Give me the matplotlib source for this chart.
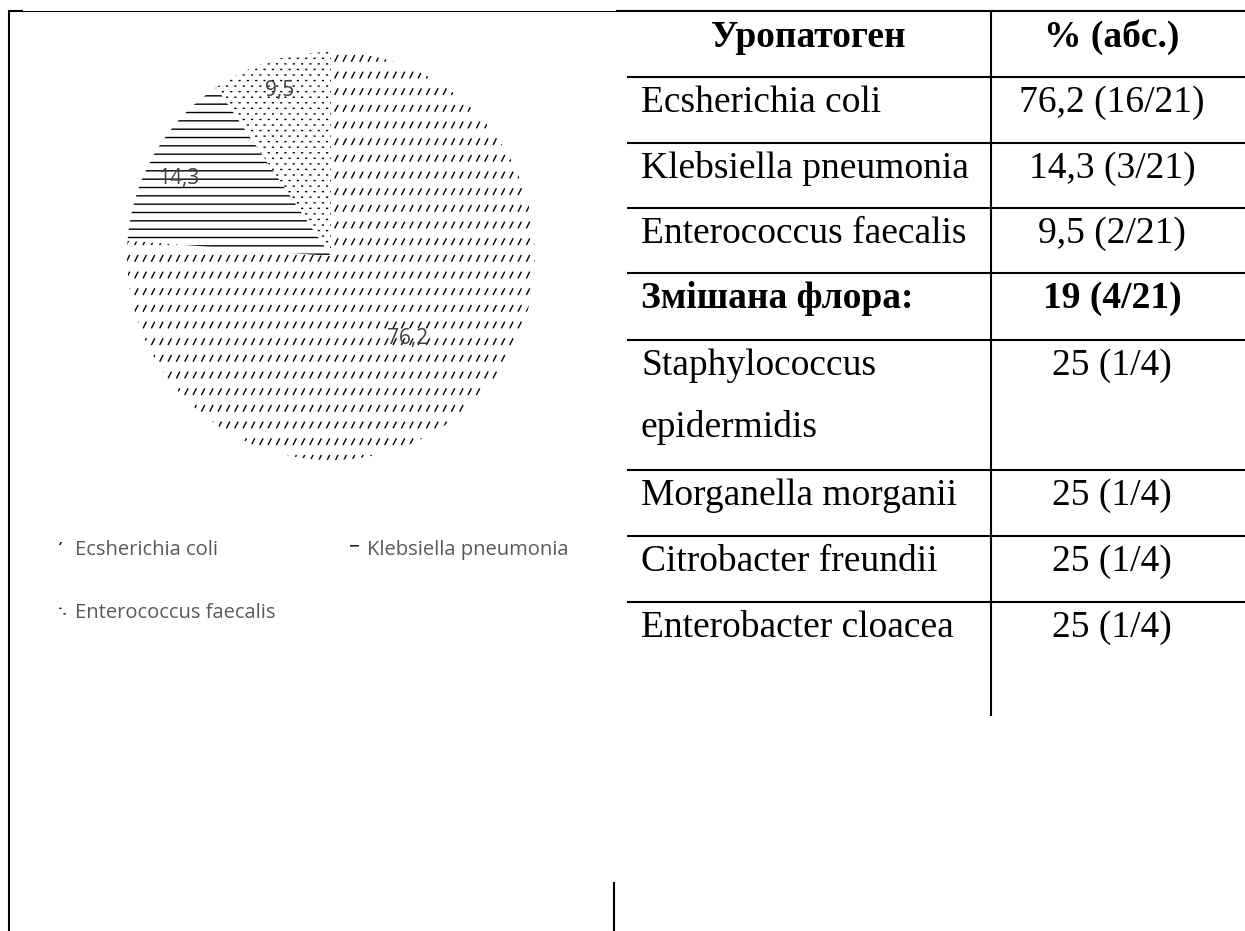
import warnings
import numpy as np
import matplotlib
matplotlib.use('Agg')
import matplotlib.pyplot as plt
from matplotlib import hatch as mhatch
from matplotlib.path import Path
from matplotlib.patches import Patch

warnings.filterwarnings('ignore')

# дані діаграми
uropathogens = ['Ecsherichia coli', 'Klebsiella pneumonia', 'Enterococcus faecalis']
shares = [76.2, 14.3, 9.5]
share_labels = ['76,2', '14,3', '9,5']
hatches = ['z', '--', 'y']

# дані таблиці
header = ['Уропатоген', '% (абс.)']
table_names = ['Ecsherichia coli', 'Klebsiella pneumonia', 'Enterococcus faecalis',
               'Змішана флора:', 'Staphylococcus\nepidermidis', 'Morganella morganii',
               'Citrobacter freundii', 'Enterobacter cloacea']
table_values = ['76,2 (16/21)', '14,3 (3/21)', '9,5 (2/21)', '19 (4/21)',
                '25 (1/4)', '25 (1/4)', '25 (1/4)', '25 (1/4)']
bold_rows = [3]


# штрихування як в Excel: ряди коротких косих рисок ('z')
class RowSlashes(mhatch.HatchPatternBase):
    def __init__(self, hatch, density):
        self.rows = hatch.count('z') * density
        self.cols = 2 * self.rows
        self.num_vertices = self.rows * self.cols * 2

    def set_vertices_and_codes(self, vertices, codes):
        ys = (np.arange(self.rows) + 0.5) / self.rows
        xs = (np.arange(self.cols) + 0.2) / self.cols
        X, Y = np.meshgrid(xs, ys)
        dx, dy = 0.028, 0.055
        v = np.empty((X.size, 2, 2))
        v[:, 0, 0] = X.ravel()
        v[:, 0, 1] = Y.ravel() - dy / 2
        v[:, 1, 0] = X.ravel() + dx
        v[:, 1, 1] = Y.ravel() + dy / 2
        vertices[:] = v.reshape(-1, 2)
        codes[0::2] = Path.MOVETO
        codes[1::2] = Path.LINETO


# дрібні точки в шаховому порядку ('y')
class FineDots(mhatch.HatchPatternBase):
    def __init__(self, hatch, density):
        n = hatch.count('y')
        self.cols = 2 * density * n
        self.rows = 3 * density * n
        self.num_vertices = self.rows * self.cols * 2

    def set_vertices_and_codes(self, vertices, codes):
        ys = (np.arange(self.rows) + 0.5) / self.rows
        pts = []
        for k, y in enumerate(ys):
            shift = 0.25 if k % 2 == 0 else 0.75
            for c in range(self.cols):
                pts.append(((c + shift) / self.cols, y))
        pts = np.array(pts)
        d = 0.004
        v = np.empty((len(pts), 2, 2))
        v[:, 0, 0] = pts[:, 0] - d
        v[:, 1, 0] = pts[:, 0] + d
        v[:, 0, 1] = pts[:, 1]
        v[:, 1, 1] = pts[:, 1]
        vertices[:] = v.reshape(-1, 2)
        codes[0::2] = Path.MOVETO
        codes[1::2] = Path.LINETO


mhatch._hatch_types.append(RowSlashes)
mhatch._hatch_types.append(FineDots)

# розмітка сторінки (пікселі)
W, H = 1245, 931
row_lines = [77, 143, 208, 273, 340, 470, 536, 602]
col1_left, col1_mid, col2_mid = 641, 808, 1112
serif = 'Liberation Serif'
sans = 'Open Sans'

fig = plt.figure(figsize=(W / 100, H / 100), dpi=100)
page = fig.add_axes([0, 0, 1, 1])
page.set_xlim(0, W)
page.set_ylim(H, 0)
page.axis('off')

kw = dict(color='black', solid_capstyle='butt')
page.plot([8, 616], [10.5, 10.5], lw=0.75, **kw)
page.plot([616, W], [10.5, 10.5], lw=1.5, **kw)
page.plot([8, 23], [10.5, 10.5], lw=1.5, **kw)
page.plot([9, 9], [10, H], lw=1.5, **kw)
page.plot([613.5, 613.5], [882, H], lw=1.5, **kw)
page.plot([991, 991], [10, 716], lw=1.5, **kw)
for y in row_lines:
    page.plot([627, W], [y, y], lw=1.5, **kw)

# таблиця
page.text(col1_mid, 47, header[0], family=serif, fontsize=27, weight='bold',
          ha='center', va='baseline')
page.text(col2_mid, 47, header[1], family=serif, fontsize=27, weight='bold',
          ha='center', va='baseline')
for i, (name, val) in enumerate(zip(table_names, table_values)):
    wt = 'bold' if i in bold_rows else 'normal'
    base = row_lines[i] + 35
    for j, part in enumerate(name.split('\n')):
        page.text(col1_left, base + j * 62, part, family=serif, fontsize=27,
                  weight=wt, ha='left', va='baseline')
    page.text(col2_mid, base, val, family=serif, fontsize=27, weight=wt,
              ha='center', va='baseline')

# кругова діаграма
cx, cy, r = 331, 256, 204
ax = fig.add_axes([(cx - r) / W, 1 - (cy + r) / H, 2 * r / W, 2 * r / H])
wedges, _ = ax.pie(shares, startangle=90, counterclock=False, radius=1,
                   colors=['white'] * 3,
                   wedgeprops=dict(edgecolor='black', linewidth=0))
for w, h in zip(wedges, hatches):
    w.set_hatch(h)
ax.set_xlim(-1, 1)
ax.set_ylim(-1, 1)
ax.set_aspect('equal')

label_r = [0.55, 0.84, 0.85]
label_shift = [0, 3, 0]  # кут, градуси
for w, lab, rr, sh in zip(wedges, share_labels, label_r, label_shift):
    mid = np.deg2rad((w.theta1 + w.theta2) / 2 + sh)
    ax.text(rr * np.cos(mid), rr * np.sin(mid), lab, family=sans, fontsize=15,
            color='#404040', ha='center', va='center')

# легенда (рядки: E. coli + Klebsiella, потім Enterococcus)
order = [0, 2, 1]
handles = [Patch(facecolor='white', edgecolor='black', linewidth=0, hatch=hatches[k])
           for k in order]
fig.legend(handles, [uropathogens[k] for k in order], loc='upper left',
           bbox_to_anchor=(58 / W, 1 - 540 / H), ncol=2, frameon=False,
           prop=dict(family=sans, size=14.5), labelcolor='#595959',
           handlelength=0.45, handleheight=0.45, handletextpad=0.4,
           columnspacing=3.7, labelspacing=2.15, borderpad=0, borderaxespad=0)

fig.savefig('out.png', dpi=100)
